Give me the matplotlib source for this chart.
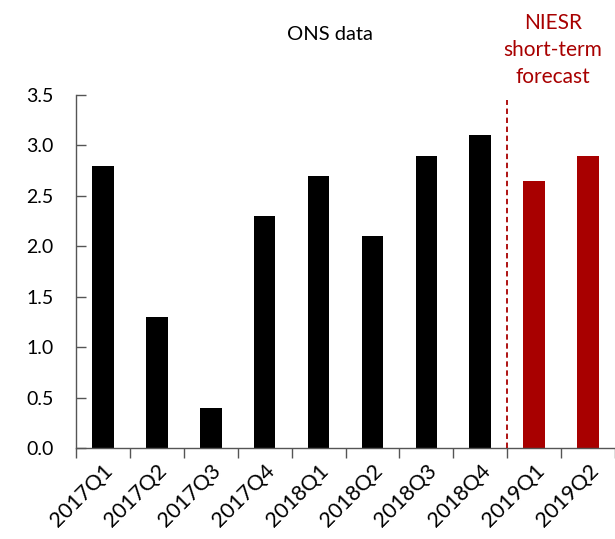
import numpy as np
import matplotlib
matplotlib.use("Agg")
import matplotlib.pyplot as plt

plt.rcParams['font.family'] = ['Lato', 'DejaVu Sans']

# data
quarters = ['2017Q1', '2017Q2', '2017Q3', '2017Q4', '2018Q1',
            '2018Q2', '2018Q3', '2018Q4', '2019Q1', '2019Q2']
growth = [2.8, 1.3, 0.4, 2.3, 2.7, 2.1, 2.9, 3.1, 2.65, 2.9]
n_actual = 8  # ONS outturns, the rest is forecast
y_ticks = [0.0, 0.5, 1.0, 1.5, 2.0, 2.5, 3.0, 3.5]

dark_red = '#A80000'

fig = plt.figure(figsize=(6.15, 5.39), dpi=100)
ax = fig.add_axes([0.1236, 0.1688, 0.8764, 0.6549])

x = np.arange(len(quarters))
colors = ['black'] * n_actual + [dark_red] * (len(quarters) - n_actual)
ax.bar(x, growth, width=0.4, color=colors, zorder=2)

# forecast divider
ax.plot([n_actual - 0.5, n_actual - 0.5], [0, 3.45], color=dark_red,
        linestyle=(0, (3, 2)), linewidth=1.3, zorder=3)

ax.set_xlim(-0.5, len(quarters) - 0.5)
ax.set_ylim(0, 3.5)
ax.set_yticks(y_ticks)
ax.set_yticklabels(['%.1f' % v for v in y_ticks], fontsize=14)

# category labels centred, ticks on the category boundaries
ax.set_xticks(np.arange(len(quarters) + 1) - 0.5)
ax.set_xticklabels([])
ax.set_xticks(x, minor=True)
ax.set_xticklabels(quarters, minor=True, rotation=45, ha='right',
                   rotation_mode='anchor', fontsize=15.5)
ax.tick_params(axis='x', which='minor', length=0, pad=9)
ax.tick_params(axis='x', which='major', direction='out', length=7, width=1, color='#555555')
ax.tick_params(axis='y', direction='in', length=7, width=1, color='#555555', pad=16)

for side in ['top', 'right']:
    ax.spines[side].set_visible(False)
for side in ['left', 'bottom']:
    ax.spines[side].set_color('#555555')
    ax.spines[side].set_linewidth(1)

fig.text(330 / 615, 1 - 35 / 539, 'ONS data', ha='center', va='center', fontsize=14.5)
fig.text(553 / 615, 1 - 50 / 539, 'NIESR\nshort-term\nforecast', ha='center', va='center',
         fontsize=15, color=dark_red, linespacing=1.45)

fig.savefig('out.png', dpi=100)
